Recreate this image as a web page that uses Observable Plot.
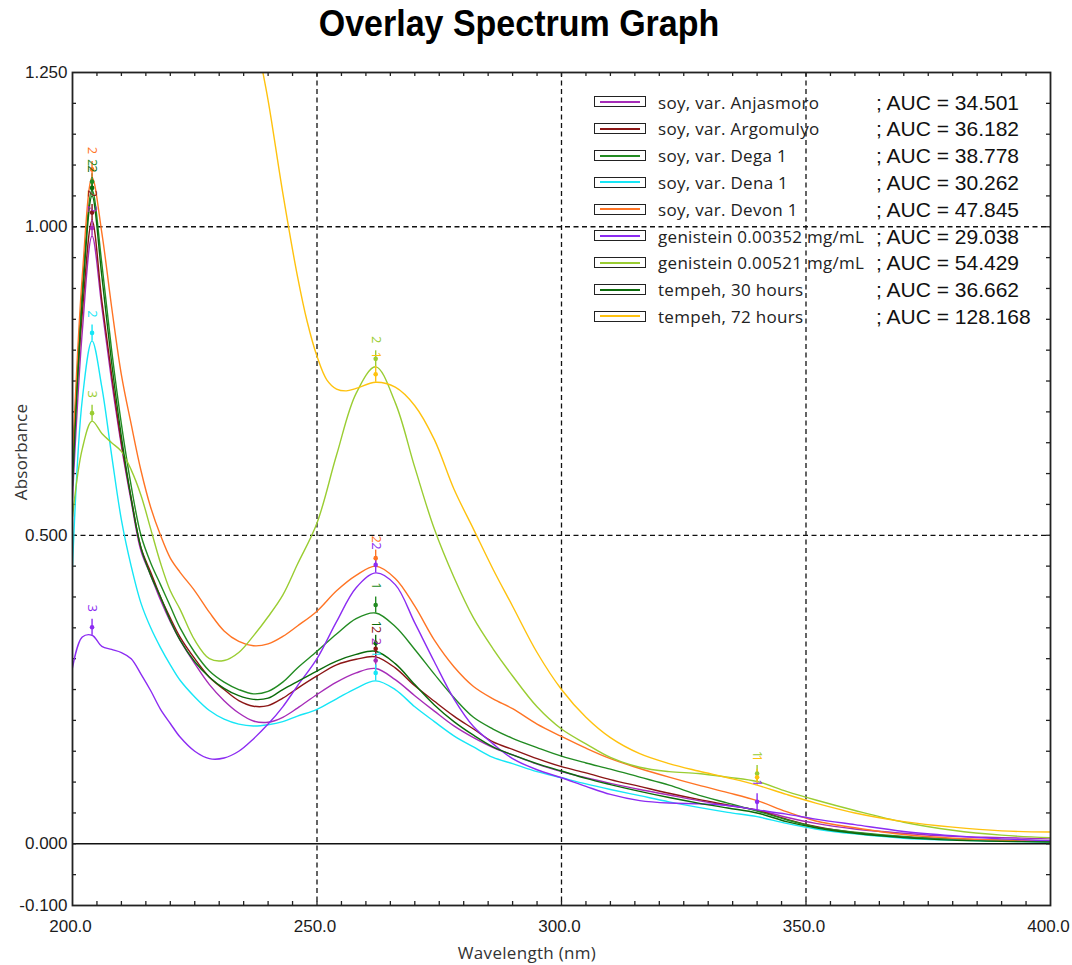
<!DOCTYPE html>
<html>
<head>
<meta charset="utf-8">
<script src="https://cdn.jsdelivr.net/npm/d3@7"></script>
<script src="https://cdn.jsdelivr.net/npm/@observablehq/plot@0.6"></script>
<style>
  body { margin: 0; background: #fff; }
  #wrap { position: relative; width: 1072px; height: 965px; overflow: hidden; font-family: "Liberation Sans", Arial, sans-serif; }
  #chart { position: absolute; left: 0; top: 0; }
  #title { position: absolute; left: 0; width: 1038px; top: 2px; text-align: center; font-weight: bold; font-size: 34px; color: #000; transform: scaleY(1.1); transform-origin: 50% 0; }
  #ylab { position: absolute; left: 20px; top: 452px; transform: translate(-50%, -50%) rotate(-90deg); font-family: "Open Sans", sans-serif; font-size: 17px; letter-spacing: 0.2px; color: #333; white-space: nowrap; line-height: 1; }
  #xlab { position: absolute; left: 527px; top: 952px; transform: translate(-50%, -50%); font-family: "Open Sans", sans-serif; font-size: 17px; letter-spacing: 0.3px; color: #333; white-space: nowrap; line-height: 1; }
  .sw { position: absolute; left: 594px; width: 50px; height: 9px; border: 1.6px solid #222; }
  .sw i { position: absolute; left: 5px; right: 5px; top: 3.5px; height: 2px; }
  .lname { position: absolute; left: 658px; font-family: "Open Sans", sans-serif; font-size: 17px; letter-spacing: 0.3px; color: #222; white-space: nowrap; line-height: 24px; }
  .lauc { position: absolute; left: 876px; font-family: "Liberation Sans", Arial, sans-serif; font-size: 21px; color: #111; white-space: nowrap; line-height: 24px; }
</style>
</head>
<body>
<div id="wrap">
  <div id="chart"></div>
  <div id="title">Overlay Spectrum Graph</div>
  <div id="ylab">Absorbance</div>
  <div id="xlab">Wavelength (nm)</div>
  <div id="legend"></div>
</div>
<script>
// ---- data ----
const wavelength = [200,202,204,206,208,210,212,214,216,218,220,222,225,228,231,234,237,240,243,246,250,254,258,262,266,270,274,278,282,286,290,295,300,305,310,316,322,328,334,340,346,352,360,370,380,390,400];

const anjasmoro = [0.56,0.83,0.985,0.87,0.75,0.645,0.555,0.475,0.435,0.395,0.36,0.33,0.292,0.258,0.232,0.212,0.199,0.197,0.205,0.22,0.242,0.262,0.277,0.284,0.266,0.24,0.215,0.191,0.172,0.156,0.144,0.129,0.117,0.107,0.098,0.088,0.079,0.07,0.062,0.055,0.043,0.033,0.024,0.017,0.012,0.010,0.008];
const argomulyo = [0.62,0.86,1.01,0.88,0.76,0.65,0.56,0.48,0.44,0.40,0.366,0.335,0.30,0.27,0.25,0.232,0.223,0.224,0.236,0.252,0.272,0.29,0.299,0.303,0.285,0.256,0.231,0.207,0.186,0.165,0.153,0.138,0.125,0.115,0.104,0.093,0.082,0.072,0.063,0.054,0.04,0.028,0.018,0.011,0.007,0.005,0.004];
const dega1 = [0.60,0.90,1.06,0.94,0.80,0.68,0.58,0.50,0.455,0.42,0.385,0.35,0.31,0.28,0.262,0.25,0.243,0.247,0.262,0.285,0.312,0.34,0.365,0.374,0.352,0.315,0.275,0.237,0.205,0.186,0.171,0.156,0.142,0.131,0.121,0.108,0.095,0.079,0.066,0.053,0.039,0.027,0.019,0.012,0.008,0.006,0.005];
const dena1 = [0.45,0.72,0.815,0.74,0.63,0.525,0.45,0.39,0.35,0.318,0.29,0.265,0.238,0.216,0.202,0.194,0.191,0.193,0.198,0.207,0.218,0.235,0.252,0.264,0.25,0.222,0.198,0.175,0.157,0.14,0.13,0.117,0.107,0.097,0.088,0.078,0.068,0.059,0.051,0.044,0.033,0.024,0.016,0.009,0.006,0.004,0.003];
const devon1 = [0.62,0.92,1.08,0.99,0.87,0.76,0.68,0.605,0.545,0.50,0.463,0.44,0.41,0.375,0.345,0.328,0.321,0.324,0.336,0.353,0.377,0.41,0.435,0.45,0.43,0.385,0.33,0.287,0.255,0.235,0.219,0.194,0.174,0.155,0.138,0.122,0.108,0.095,0.083,0.07,0.052,0.037,0.026,0.015,0.009,0.006,0.005];
const genistein352 = [0.285,0.335,0.338,0.32,0.315,0.31,0.30,0.275,0.248,0.218,0.195,0.173,0.15,0.138,0.139,0.15,0.17,0.194,0.222,0.256,0.30,0.36,0.415,0.439,0.42,0.358,0.295,0.235,0.19,0.162,0.138,0.12,0.107,0.093,0.08,0.07,0.066,0.065,0.062,0.055,0.048,0.04,0.031,0.02,0.013,0.008,0.005];
const genistein521 = [0.53,0.64,0.685,0.665,0.65,0.636,0.606,0.565,0.51,0.455,0.41,0.38,0.33,0.300,0.297,0.31,0.337,0.368,0.403,0.453,0.52,0.63,0.73,0.773,0.715,0.61,0.51,0.432,0.366,0.316,0.272,0.222,0.186,0.162,0.14,0.124,0.117,0.114,0.108,0.101,0.085,0.071,0.054,0.035,0.022,0.014,0.010];
const tempeh30 = [0.58,0.88,1.05,0.92,0.78,0.66,0.56,0.48,0.435,0.40,0.362,0.33,0.295,0.27,0.252,0.24,0.234,0.236,0.25,0.263,0.28,0.296,0.307,0.312,0.292,0.258,0.225,0.198,0.176,0.157,0.144,0.13,0.118,0.106,0.096,0.085,0.075,0.066,0.058,0.05,0.036,0.026,0.017,0.01,0.006,0.004,0.003];

// tempeh 72 h is sampled on its own wavelengths (it rises above the axis top below ~239 nm)
const wavelength72 = [228,231,234,237,240,243,246,248,250,252,254,256,258,262,266,270,274,278,282,286,290,295,300,305,310,316,322,328,334,340,346,352,360,370,380,390,400];
const tempeh72 = [1.85,1.65,1.48,1.33,1.205,1.055,0.92,0.846,0.79,0.752,0.737,0.734,0.738,0.748,0.74,0.71,0.655,0.575,0.51,0.445,0.385,0.31,0.25,0.205,0.172,0.146,0.130,0.118,0.107,0.095,0.08,0.066,0.05,0.036,0.027,0.021,0.019];

const seriesNames = ["soy, var. Anjasmoro","soy, var. Argomulyo","soy, var. Dega 1","soy, var. Dena 1","soy, var. Devon 1","genistein 0.00352 mg/mL","genistein 0.00521 mg/mL","tempeh, 30 hours","tempeh, 72 hours"];
const aucValues = ["34.501","36.182","38.778","30.262","47.845","29.038","54.429","36.662","128.168"];
const seriesValues = [anjasmoro, argomulyo, dega1, dena1, devon1, genistein352, genistein521, tempeh30, tempeh72];
const seriesWavelengths = [wavelength, wavelength, wavelength, wavelength, wavelength, wavelength, wavelength, wavelength, wavelength72];
const colors = ["#a62cb8","#8b1616","#228b22","#16e6f6","#ff7424","#8c2cf2","#9acd32","#0b6b0b","#ffc20e"];

// peak markers: series index, wavelength, label
const peakSeries = [0,1,2,3,4,5,6,7, 0,1,2,3,4,5,6,7,8, 5,6,8];
const peakWl     = [204,204,204,204,204,204,204,204, 262,262,262,262,262,262,262,262,262, 340,340,340];
const peakLabel  = ["2","2","2","2","2","3","3","2", "2","2","1","1","2","2","2","1","1", "1","1","1"];

const xTicks = [200, 250, 300, 350, 400];
const yTicks = [-0.1, 0, 0.5, 1.0, 1.25];
const xGrid = [250, 300, 350];
const yGrid = [0.5, 1.0];
const xMinor = d3.range(205, 400, 5);
const yMinor = d3.range(-0.05, 1.25, 0.05);

// ---- layout ----
const W = 1072, H = 965, mT = 72, mB = 60, mL = 72, mR = 22;
const innerW = W - mL - mR, innerH = H - mT - mB;
const yDomain = [-0.1, 1.25];
const pxPerUnit = innerH / (yDomain[1] - yDomain[0]);

const marks = [];
marks.push(Plot.ruleX(xGrid, {stroke: "#111", strokeWidth: 1.3, strokeDasharray: "5,3.5"}));
marks.push(Plot.ruleY(yGrid, {stroke: "#111", strokeWidth: 1.3, strokeDasharray: "5,3.5"}));
marks.push(Plot.ruleY([0], {stroke: "#111", strokeWidth: 1.6}));
// minor inward ticks on all four sides
marks.push(Plot.ruleX(xMinor, {insetTop: innerH - 4, stroke: "#222", strokeWidth: 1.3}));
marks.push(Plot.ruleX(xMinor, {insetBottom: innerH - 4, stroke: "#222", strokeWidth: 1.3}));
marks.push(Plot.ruleY(yMinor, {insetRight: innerW - 4, stroke: "#222", strokeWidth: 1.3}));
marks.push(Plot.ruleY(yMinor, {insetLeft: innerW - 4, stroke: "#222", strokeWidth: 1.3}));

seriesValues.forEach((vals, i) => {
  const wl = seriesWavelengths[i];
  const data = wl.map((w, j) => ({w, v: vals[j]})).filter(d => d.v != null);
  marks.push(Plot.line(data, {x: "w", y: "v", stroke: colors[i], strokeWidth: 1.4, curve: "catmull-rom", clip: true}));
});

const peaks = peakSeries.map((s, k) => ({
  s, x: peakWl[k], y: seriesValues[s][seriesWavelengths[s].indexOf(peakWl[k])], label: peakLabel[k], c: colors[s]
}));
marks.push(Plot.ruleX(peaks, {x: "x", y1: "y", y2: d => d.y + 16 / pxPerUnit, stroke: "c", strokeWidth: 1.4}));
marks.push(Plot.dot(peaks, {x: "x", y: d => d.y + 8 / pxPerUnit, r: 2.3, fill: "c", stroke: null}));
marks.push(Plot.text(peaks, {x: "x", y: d => d.y + 27 / pxPerUnit, text: "label", rotate: 90, fill: "c", fontSize: 13, fontFamily: "Open Sans, sans-serif"}));

marks.push(Plot.frame({stroke: "#222", strokeWidth: 1.8}));
marks.push(Plot.axisX({ticks: xTicks, tickFormat: d => d.toFixed(1), tickSize: 0, tickPadding: 14, dx: -2, label: null, fill: "#1c1c1c"}));
marks.push(Plot.axisY({ticks: yTicks, tickFormat: d => d.toFixed(3), tickSize: 0, tickPadding: 5, label: null, fill: "#1c1c1c"}));

const plot = Plot.plot({
  width: W, height: H,
  marginTop: mT, marginBottom: mB, marginLeft: mL, marginRight: mR,
  x: {domain: [200, 400]},
  y: {domain: yDomain},
  color: {type: "identity"},
  style: {fontFamily: "Liberation Sans, Arial, sans-serif", fontSize: "17px", background: "#fff", overflow: "visible"},
  marks
});
document.getElementById("chart").appendChild(plot);

// ---- legend ----
const rowY0 = 102.5, rowStep = 26.8;
const legend = document.getElementById("legend");
seriesNames.forEach((name, i) => {
  const cy = rowY0 + i * rowStep;
  const sw = document.createElement("div");
  sw.className = "sw";
  sw.style.top = (cy - 6.1) + "px";
  const ln = document.createElement("i");
  ln.style.background = colors[i];
  sw.appendChild(ln);
  legend.appendChild(sw);
  const nm = document.createElement("div");
  nm.className = "lname";
  nm.textContent = name;
  nm.style.top = (cy - 12) + "px";
  legend.appendChild(nm);
  const au = document.createElement("div");
  au.className = "lauc";
  au.textContent = "; AUC = " + aucValues[i];
  au.style.top = (cy - 12) + "px";
  legend.appendChild(au);
});
</script>
</body>
</html>
